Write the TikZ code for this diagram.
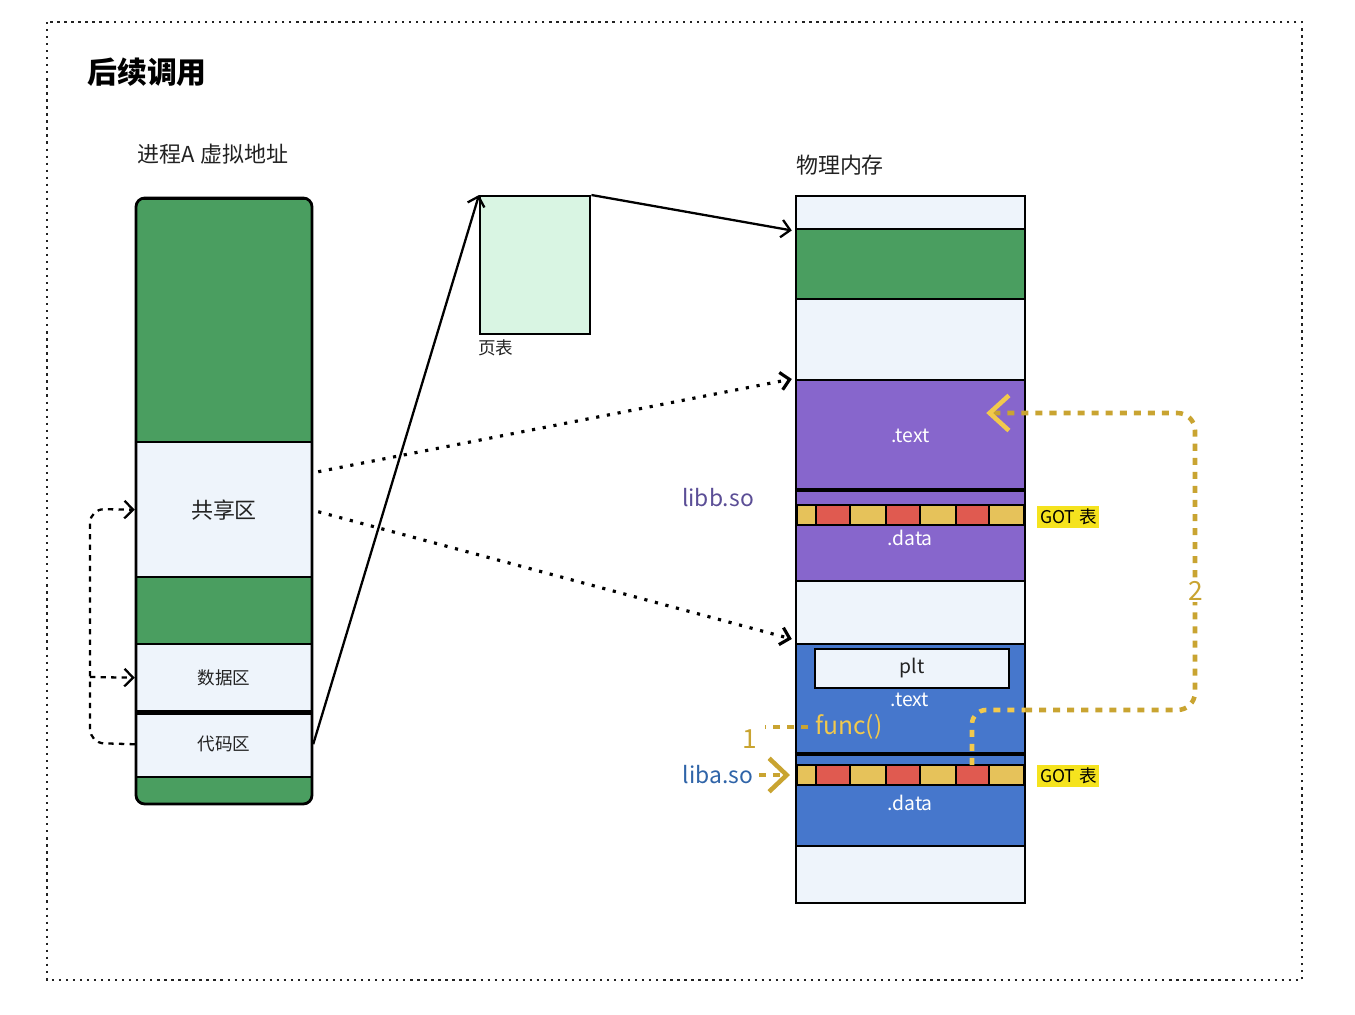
\documentclass[tikz,border=0pt]{standalone}
\usepackage{fontspec}
\setmainfont{Noto Sans CJK SC}
\usetikzlibrary{arrows.meta,calc}
\definecolor{vgreen}{HTML}{4A9E60}
\definecolor{cell}{HTML}{EEF4FB}
\definecolor{libbfill}{HTML}{8766CC}
\definecolor{libafill}{HTML}{4677CC}
\definecolor{gotred}{HTML}{E05A50}
\definecolor{gotyel}{HTML}{E6C25A}
\definecolor{ptfill}{HTML}{D9F5E3}
\definecolor{gold}{HTML}{C9A431}
\definecolor{goldlt}{HTML}{F2C94C}
\definecolor{gotbg}{HTML}{F5E31E}
\definecolor{libbcol}{HTML}{5B4E96}
\definecolor{libacol}{HTML}{2F64A8}
\definecolor{textdark}{HTML}{222222}
\begin{document}
\begin{tikzpicture}[x=0.02cm, y=-0.02cm, >={Straight Barb[length=5pt,width=10pt]},
    seg/.style={draw, line width=1.4pt, inner sep=0pt, anchor=north, text=textdark},
    vseg/.style={seg, minimum width=3.52cm},
    pseg/.style={seg, minimum width=4.58cm},
    big/.style={font=\fontsize{12.5}{15}\selectfont},
    small/.style={font=\fontsize{10}{12}\selectfont},
    sect/.style={text=white, font=\fontsize{11}{13}\selectfont},
    gdash/.style={line width=2.6pt, dash pattern=on 4pt off 4pt},
    dots/.style={line width=1.8pt, dash pattern=on 1.8pt off 4.4pt}]
    \useasboundingbox (0,0) rectangle (1355,1014);

    % Outer dotted frame and title
    \draw[line width=1.3pt, dash pattern=on 1.3pt off 2.7pt, textdark] (47,22) rectangle (1302,980);
    \node[font=\fontsize{17}{20}\selectfont\bfseries, text=black] (title) at (147,72) {后续调用};

    % Virtual address space of process A (left)
    \node[big, text=textdark] (vlabel) at (213,154) {进程A 虚拟地址};
    \begin{scope}
        \clip[rounded corners=5pt] (136,198) rectangle (312,804);
        \node[vseg, fill=vgreen, minimum height=4.86cm] (vg1) at (224,198) {};
        \node[vseg, fill=cell, minimum height=2.7cm, big] (share) at (224,441) {共享区};
        \node[vseg, fill=vgreen, minimum height=1.34cm] (vg2) at (224,576) {};
        \node[vseg, fill=cell, minimum height=1.34cm, small] (data) at (224,643) {数据区};
        \node[vseg, fill=cell, minimum height=1.32cm, small] (code) at (224,710) {代码区};
        \node[vseg, fill=vgreen, minimum height=0.56cm] (vg3) at (224,776) {};
    \end{scope}
    \draw[line width=2.6pt] (data.south west) -- (data.south east);
    \draw[line width=1.6pt, rounded corners=5pt] (136,198) rectangle (312,804);

    % Jumps inside the process
    \draw[->, dashed, line width=1.3pt, rounded corners=8pt] (code.west) -- (90,743) -- (90,509) -- (share.west);
    \draw[->, dashed, line width=1.3pt] (90,677) -- (data.west);

    % Page table
    \node[draw, line width=1.4pt, fill=ptfill, minimum width=2.2cm, minimum height=2.76cm, anchor=north west] (pt) at (479,195) {};
    \node[small, text=textdark, anchor=west, inner sep=0pt] (ptlabel) at (478,348) {页表};

    % Physical memory (right)
    \node[big, text=textdark] (plabel) at (840,165) {物理内存};
    \node[pseg, fill=cell, minimum height=0.66cm] (p1) at (910.5,195) {};
    \node[pseg, fill=vgreen, minimum height=1.4cm] (p2) at (910.5,228) {};
    \node[pseg, fill=cell, minimum height=1.62cm] (p3) at (910.5,298) {};
    \node[pseg, fill=libbfill, minimum height=2.22cm, sect] (btext) at (910.5,379) {.text};
    \node[pseg, fill=libbfill, minimum height=1.8cm] (bdata) at (910.5,490) {};
    \node[pseg, fill=cell, minimum height=1.26cm] (p4) at (910.5,580) {};
    \node[pseg, fill=libafill, minimum height=2.22cm] (atext) at (910.5,643) {};
    \node[pseg, fill=libafill, minimum height=1.82cm] (adata) at (910.5,754) {};
    \node[pseg, fill=cell, minimum height=1.14cm] (p5) at (910.5,845) {};
    \draw[line width=2.6pt] (bdata.north west) -- (bdata.north east);
    \draw[line width=2.6pt] (adata.north west) -- (adata.north east);

    % GOT entries
    \foreach \y in {505,765}
        \foreach \xa/\xb/\c in {797/816/gotyel, 816/850/gotred, 850/886/gotyel, 886/920/gotred,
                                920/956/gotyel, 956/989/gotred, 989/1024/gotyel}
            \draw[fill=\c, line width=1.2pt] (\xa,\y) rectangle (\xb,\y+20);
    \coordinate (gotB) at (796,515);
    \coordinate (gotA) at (796,775);
    \coordinate (gotcell) at (972,765);
    \node[sect] (bdlabel) at (910,538) {.data};
    \node[draw, line width=1.4pt, fill=cell, minimum width=3.88cm, minimum height=0.78cm,
          font=\fontsize{11}{13}\selectfont, text=textdark] (plt) at (912,668.5) {plt};
    \node[sect] (atlabel) at (910,700) {.text};
    \node[sect] (adlabel) at (910,803) {.data};
    \node[small, fill=gotbg, inner sep=1.5pt, anchor=west, text=black] (gotlabB) at (1037,517) {GOT 表};
    \node[small, fill=gotbg, inner sep=1.5pt, anchor=west, text=black] (gotlabA) at (1037,776) {GOT 表};

    % Library names
    \node[font=\fontsize{13}{15}\selectfont, text=libbcol] (libb) at (718,498) {libb.so};
    \node[font=\fontsize{13}{15}\selectfont, text=libacol] (liba) at (718,775) {liba.so};

    % Address translation
    \draw[->, line width=1.3pt] (code.east) -- (pt.north west);
    \draw[->, line width=1.3pt] (pt.north east) -- ($(p1.south west)+(-3,0)$);
    \draw[->, dots] ($(share.east)+(5,-38)$) -- ($(btext.north west)+(-3,0)$);
    \draw[->, dots] ($(share.east)+(5,2)$) -- ($(atext.north west)+(-3,-4)$);

    % Call path 1: func() through the GOT
    \node[text=goldlt, font=\fontsize{14}{16}\selectfont, anchor=west, inner sep=0pt] (func) at (815,727) {func()};
    \draw[gdash, gold] ([xshift=-4pt]func.west) -- (765,727);
    \node[text=gold, font=\fontsize{15}{17}\selectfont] (one) at (750,739) {1};
    \draw[gdash, gold, -{Straight Barb[length=10pt,width=19pt]}] (liba.east) -- ($(gotA)+(-6,0)$);

    % Call path 2: from the GOT entry to libb .text
    \draw[gdash, goldlt, rounded corners=8pt] (gotcell) -- (972,710) -- (1025,710);
    \draw[gdash, gold, rounded corners=10pt, -{Straight Barb[length=11pt,width=20pt,color=goldlt]}]
        (1025,710) -- (1195,710) -- (1195,413) -- ($(btext.north east)+(-40,34)$);
    \node[fill=white, text=gold, font=\fontsize{15}{17}\selectfont, inner sep=1pt] (two) at (1196,591) {2};
\end{tikzpicture}
\end{document}
